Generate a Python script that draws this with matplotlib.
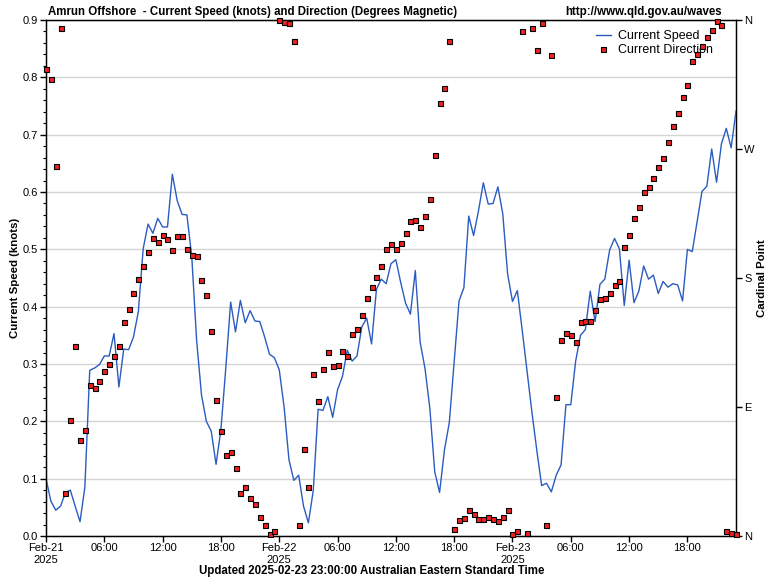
import matplotlib
matplotlib.use('Agg')
import matplotlib.pyplot as plt
import matplotlib.dates as mdates
from matplotlib.ticker import MultipleLocator, FixedLocator, FuncFormatter
from matplotlib.lines import Line2D
import pandas as pd

plt.rcParams['font.family'] = ['Liberation Sans', 'DejaVu Sans']

# ---------------- data ----------------
start_time = '2025-02-21 00:00'
interval = '30min'

speed_knots = [
    0.100, 0.061, 0.045, 0.052, 0.076, 0.080, 0.052, 0.025, 0.085, 0.289,
    0.293, 0.299, 0.314, 0.314, 0.353, 0.260, 0.326, 0.325, 0.347, 0.391,
    0.501, 0.544, 0.528, 0.554, 0.539, 0.539, 0.631, 0.585, 0.561, 0.560,
    0.487, 0.341, 0.246, 0.200, 0.183, 0.125, 0.186, 0.293, 0.408, 0.356,
    0.411, 0.372, 0.393, 0.375, 0.374, 0.347, 0.317, 0.311, 0.290, 0.225,
    0.133, 0.097, 0.106, 0.052, 0.023, 0.079, 0.221, 0.219, 0.243, 0.207,
    0.255, 0.278, 0.324, 0.305, 0.314, 0.365, 0.380, 0.335, 0.430, 0.448,
    0.440, 0.475, 0.482, 0.442, 0.406, 0.387, 0.463, 0.338, 0.292, 0.222,
    0.112, 0.076, 0.150, 0.198, 0.305, 0.410, 0.433, 0.558, 0.524, 0.567,
    0.616, 0.579, 0.580, 0.609, 0.562, 0.457, 0.409, 0.428, 0.359, 0.287,
    0.216, 0.150, 0.088, 0.092, 0.077, 0.106, 0.124, 0.229, 0.229, 0.305,
    0.350, 0.360, 0.427, 0.374, 0.439, 0.448, 0.499, 0.519, 0.501, 0.402,
    0.481, 0.407, 0.427, 0.471, 0.448, 0.455, 0.423, 0.444, 0.434, 0.440,
    0.438, 0.410, 0.500, 0.496, 0.549, 0.601, 0.610, 0.675, 0.617, 0.684,
    0.711, 0.677, 0.741,
]

direction_deg = [
    326.0, 319.0, 258.0, 354.5, 29.7, 81.0, 132.7, 67.3, 74.0, 105.4,
    103.5, 108.0, 115.4, 119.7, 125.6, 132.7, 149.0, 158.4, 169.6, 179.1,
    188.7, 198.2, 208.2, 204.8, 210.1, 207.2, 199.6, 209.4, 209.4, 200.3,
    196.3, 195.6, 178.7, 168.2, 143.0, 95.2, 73.3, 56.6, 58.5, 47.6,
    30.0, 34.5, 26.2, 22.6, 13.3, 7.4, 1.2, 3.6, 359.9, 358.3,
    358.0, 345.2, 8.0, 60.9, 34.5, 113.0, 94.4, 116.6, 128.5, 118.7,
    119.4, 129.2, 125.6, 141.0, 144.6, 154.2, 166.0, 173.7, 180.8, 188.7,
    200.4, 203.9, 200.3, 204.4, 211.5, 219.8, 220.5, 215.8, 223.4, 235.0,
    265.7, 302.1, 312.6, 345.2, 5.2, 11.4, 12.6, 18.4, 15.5, 11.9,
    11.9, 13.3, 11.9, 10.7, 13.3, 18.3, 1.2, 3.6, 352.3, 2.4,
    354.5, 339.0, 358.0, 7.9, 335.7, 97.0, 136.8, 141.8, 140.4, 135.6,
    149.6, 150.1, 150.1, 157.7, 165.3, 166.0, 169.6, 175.3, 178.2, 201.7,
    210.1, 222.0, 229.6, 240.3, 243.4, 249.8, 257.6, 263.6, 275.0, 286.0,
    295.2, 306.4, 314.7, 331.4, 336.2, 341.6, 348.3, 352.8, 359.2, 356.6,
    3.6, 1.9, 1.2,
]

cardinal_degrees = [0, 90, 180, 270, 360]
cardinal_labels = ['N', 'E', 'S', 'W', 'N']

title_text = 'Amrun Offshore  - Current Speed (knots) and Direction (Degrees Magnetic)'
url_text = 'http://www.qld.gov.au/waves'
footer_text = 'Updated 2025-02-23 23:00:00 Australian Eastern Standard Time'
speed_label = 'Current Speed'
direction_label = 'Current Direction'

times = pd.date_range(start_time, periods=len(speed_knots), freq=interval)

# ---------------- figure ----------------
W, H = 780, 580
fig = plt.figure(figsize=(W / 100, H / 100), dpi=100)
ax = fig.add_axes([46 / W, 44 / H, 690 / W, 516 / H])

line_color = '#2a5cc2'
ax.plot(times, speed_knots, color=line_color, lw=1.0, zorder=3)

ax.set_xlim(times[0], times[-1])
ax.set_ylim(0, 0.9)
ax.yaxis.set_major_locator(MultipleLocator(0.1))
ax.yaxis.set_minor_locator(MultipleLocator(0.02))
ax.yaxis.set_major_formatter(FuncFormatter(lambda v, p: f'{v:.1f}'))
ax.grid(axis='y', which='major', color='#d4d4d4', lw=1.0)
ax.set_axisbelow(True)

ax.xaxis.set_major_locator(mdates.HourLocator(byhour=[0, 6, 12, 18]))


def xfmt(v, pos):
    d = mdates.num2date(v)
    if d.hour == 0:
        return d.strftime('%b-%d') + '\n' + d.strftime('%Y')
    return d.strftime('%H:%M')


ax.xaxis.set_major_formatter(FuncFormatter(xfmt))
ax.tick_params(axis='both', which='major', labelsize=8, length=4, width=1, color='black', pad=2)
ax.tick_params(axis='y', which='minor', length=2, width=0.8)
ax.tick_params(axis='x', pad=1)
for s in ax.spines.values():
    s.set_color('black')
    s.set_linewidth(1)

marker_kw = dict(ls='none', marker='s', ms=3.6, mfc='#f02020', mec='black', mew=0.8)

ax2 = ax.twinx()
ax2.plot(times, direction_deg, clip_on=False, zorder=4, **marker_kw)
ax2.set_ylim(0, 360)
ax2.yaxis.set_major_locator(FixedLocator(cardinal_degrees))
ax2.set_yticklabels(cardinal_labels)
ax2.tick_params(axis='y', labelsize=8, length=4, width=1, pad=2)
ax2.set_xlim(times[0], times[-1])

# legend (drawn on the lower axes so the markers sit on top of it)
handles = [
    Line2D([], [], color=line_color, lw=1.0),
    Line2D([], [], **marker_kw),
]
ax.legend(handles, [speed_label, direction_label], loc='upper right',
          bbox_to_anchor=(713 / W, 1 - 30 / H), bbox_transform=fig.transFigure,
          frameon=False, fontsize=9, borderpad=0, borderaxespad=0,
          handlelength=1.25, handletextpad=0.55, labelspacing=0.15)

fig.text(48 / W, 1 - 12 / H, title_text, fontsize=8.3, fontweight='bold', ha='left', va='center')
fig.text(722 / W, 1 - 12 / H, url_text, fontsize=8.3, fontweight='bold', ha='right', va='center')
fig.text(372 / W, 1 - 571 / H, footer_text, fontsize=8.3, fontweight='bold', ha='center', va='center')
fig.text(15 / W, 1 - 278 / H, 'Current Speed (knots)', fontsize=8.2, fontweight='bold',
         rotation=90, ha='center', va='center')
fig.text(762 / W, 1 - 278 / H, 'Cardinal Point', fontsize=8.2, fontweight='bold',
         rotation=90, ha='center', va='center')

fig.savefig('out.png', dpi=100)
